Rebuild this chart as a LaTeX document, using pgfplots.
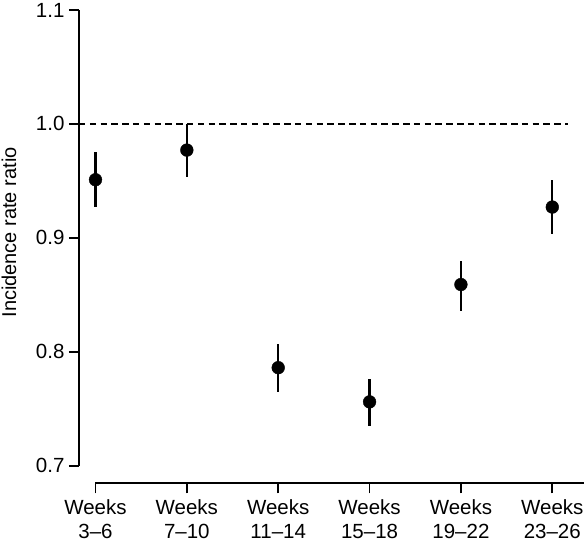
\documentclass[border=0pt]{standalone}
\usepackage{pgfplots}
\pgfplotsset{compat=1.18}
\usepackage{pgfplotstable}
\usepackage{fontspec}
\setmainfont{Liberation Sans}
\pgfplotstableread{
x y ep em
0 0.951 0.024 0.024
1 0.977 0.023 0.024
2 0.786 0.021 0.021
3 0.756 0.020 0.021
4 0.859 0.021 0.023
5 0.927 0.024 0.024
}\irr
\begin{document}
\begin{tikzpicture}
\begin{axis}[
  scale only axis,
  width=505pt, height=473.3pt,
  xmin=-0.1806, xmax=5.347,
  ymin=0.6845, ymax=1.1,
  clip=false,
  axis line style={draw=none},
  xtick={0,1,2,3,4,5},
  xticklabels={{Weeks\\3--6},{Weeks\\7--10},{Weeks\\11--14},{Weeks\\15--18},{Weeks\\19--22},{Weeks\\23--26}},
  ytick={0.7,0.8,0.9,1.0,1.1},
  /pgf/number format/fixed,
  /pgf/number format/fixed zerofill,
  /pgf/number format/precision=1,
  /pgf/number format/assume math mode=true,
  xtick pos=bottom, ytick pos=left,
  tick align=outside,
  major tick length=10pt,
  tick style={line width=1.8pt, black},
  ticklabel style={font=\fontsize{20.5}{23.5}\selectfont},
  xticklabel style={align=center, yshift=-3pt},
  yticklabel style={xshift=-1pt},
  ylabel={Incidence rate ratio},
  ylabel style={font=\fontsize{20}{22}\selectfont, at={(axis description cs:-0.1386,0.53)}, anchor=center},
]
\addplot[black, line width=1.8pt, dash pattern=on 6.5pt off 4.3pt] coordinates {(-0.1806,1.0) (5.17,1.0)};
\addplot[black, line width=1.8pt] coordinates {(-0.1806,0.7) (-0.1806,1.1)};
\addplot[black, line width=1.8pt] coordinates {(0,0.6845) (5.347,0.6845)};
\addplot[only marks, mark=*, mark size=6.4pt, black,
  error bars/.cd, y dir=both, y explicit, error mark=none,
  error bar style={line width=2.4pt, black}]
  table[x=x, y=y, y error plus=ep, y error minus=em] {\irr};
\end{axis}
\pgfresetboundingbox
\useasboundingbox (-79pt,-61.7pt) rectangle (505pt,483.3pt);
\end{tikzpicture}
\end{document}
